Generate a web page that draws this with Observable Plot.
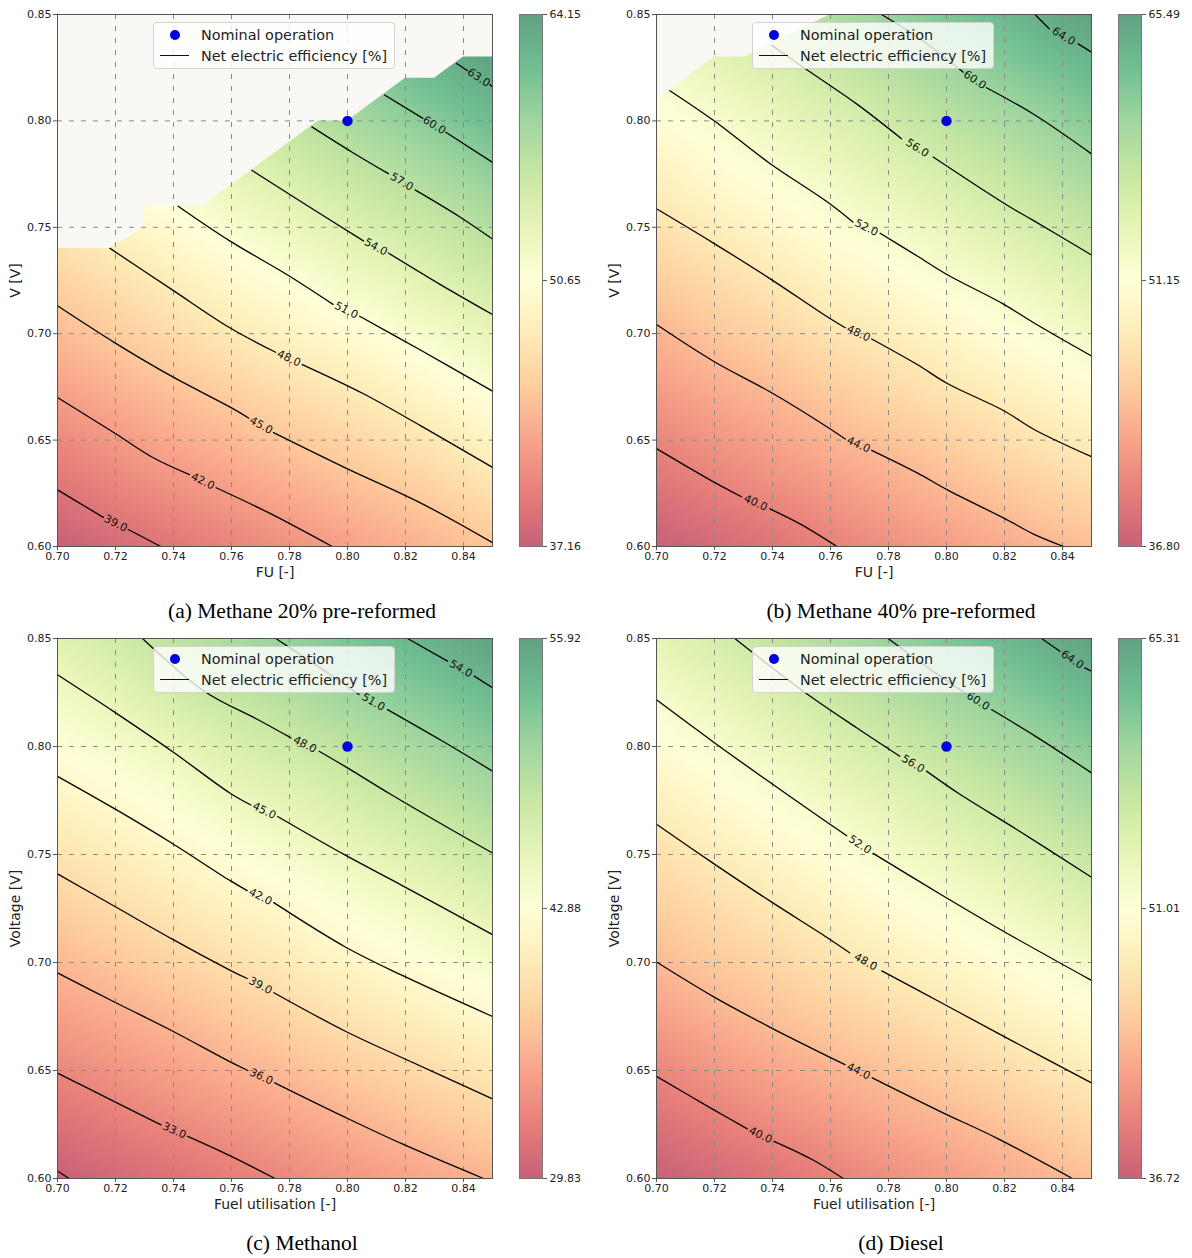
<!DOCTYPE html>
<html><head><meta charset="utf-8">
<script src="https://cdn.jsdelivr.net/npm/d3@7"></script>
<script src="https://cdn.jsdelivr.net/npm/@observablehq/plot@0.6"></script>
<style>
body{margin:0;background:#fff;font-family:"DejaVu Sans",sans-serif;}
#fig{position:relative;width:1192px;height:1258px;overflow:hidden;background:#fff;}
.legend{position:absolute;box-sizing:border-box;width:242px;height:47px;border:1px solid #d2d2d2;border-radius:4px;background:rgba(255,255,255,0.8);font-size:14.4px;color:#222;}
.legend .dot{position:absolute;left:16px;top:7px;width:10px;height:10px;border-radius:50%;background:#0000dd;}
.legend .ln{position:absolute;left:6px;top:32px;width:29px;height:1.4px;background:#111;}
.legend .t{position:absolute;left:47px;line-height:18px;white-space:nowrap;}
.caption{position:absolute;width:600px;text-align:center;font-family:"Liberation Serif",serif;font-size:21.5px;line-height:26px;color:#000;}
</style></head>
<body><div id="fig"></div>
<script>
// ---------------- data ----------------
const xTicks = [0.70, 0.72, 0.74, 0.76, 0.78, 0.80, 0.82, 0.84];
const yTicks = [0.60, 0.65, 0.70, 0.75, 0.80, 0.85];
const xDomain = [0.70, 0.85];
const yDomain = [0.60, 0.85];
const nominal = [{fu: 0.80, v: 0.80}];
const captions = ["(a) Methane 20% pre-reformed", "(b) Methane 40% pre-reformed", "(c) Methanol", "(d) Diesel"];
const legendItems = ["Nominal operation", "Net electric efficiency [%]"];

// colour-bar ranges and ticks
const rangeA = [37.16, 64.15], cbTicksA = [37.16, 50.65, 64.15];
const rangeB = [36.80, 65.49], cbTicksB = [36.80, 51.15, 65.49];
const rangeC = [29.83, 55.92], cbTicksC = [29.83, 42.88, 55.92];
const rangeD = [36.72, 65.31], cbTicksD = [36.72, 51.01, 65.31];

// contour lines: [level, [[FU, V], ...]]; null = gap left for the inline label
const contoursA = [
  [39, [[0.70,0.6266],[0.7158,0.6137],null,[0.7244,0.6080],[0.7356,0.600]]],
  [42, [[0.70,0.670],[0.7198,0.6532],[0.733,0.6417],[0.7455,0.6338],null,[0.7547,0.6276],[0.7726,0.616],[0.7947,0.600]]],
  [45, [[0.70,0.7131],[0.7198,0.6957],[0.7396,0.6798],[0.7594,0.6656],[0.766,0.6603],null,[0.7745,0.6535],[0.7989,0.6372],[0.8253,0.6204],[0.85,0.6018]]],
  [48, [[0.7181,0.7401],[0.7396,0.7206],[0.7594,0.7028],[0.7752,0.6913],null,[0.7844,0.6855],[0.8055,0.6718],[0.8253,0.6567],[0.85,0.6372]]],
  [51, [[0.7416,0.7599],[0.7594,0.7436],[0.7792,0.7277],[0.795,0.7138],null,[0.8042,0.7082],[0.8253,0.6922],[0.85,0.673]]],
  [54, [[0.767,0.7768],[0.7858,0.7605],[0.8055,0.7436],null,[0.8141,0.7379],[0.8319,0.7232],[0.85,0.709]]],
  [57, [[0.7877,0.7972],[0.8016,0.7853],[0.8141,0.7752],null,[0.8233,0.7676],[0.8385,0.7551],[0.85,0.7445]]],
  [60, [[0.8128,0.8122],[0.826,0.8012],null,[0.8339,0.7947],[0.85,0.7805]]],
  [63, [[0.8376,0.827],[0.8414,0.8236],null,[0.8491,0.817],[0.85,0.8161]]]
];
const contoursB = [
  [40, [[0.70,0.646],[0.7195,0.6305],[0.7293,0.6234],null,[0.7391,0.6177],[0.7495,0.6106],[0.7622,0.600]]],
  [44, [[0.70,0.7043],[0.7195,0.6872],[0.7391,0.6727],[0.7586,0.6564],[0.7651,0.6505],null,[0.7742,0.6452],[0.7899,0.6346],[0.8003,0.6266],[0.8198,0.6133],[0.8302,0.6057],[0.8404,0.600]]],
  [48, [[0.70,0.7587],[0.7195,0.7427],[0.7391,0.7259],[0.7586,0.7082],[0.7651,0.7028],null,[0.7742,0.6975],[0.7899,0.6855],[0.8003,0.6766],[0.8198,0.6638],[0.8302,0.655],[0.85,0.6422]]],
  [52, [[0.7046,0.8142],[0.7195,0.8004],[0.7391,0.780],[0.7586,0.7622],[0.7677,0.7525],null,[0.7771,0.7472],[0.7899,0.7365],[0.8003,0.7277],[0.8198,0.7138],[0.8302,0.705],[0.85,0.6895]]],
  [56, [[0.7397,0.8356],[0.7506,0.8252],[0.769,0.808],[0.7845,0.7916],null,[0.7954,0.783],[0.8198,0.7613],[0.8302,0.753],[0.85,0.737]]],
  [60, [[0.7776,0.85],[0.7908,0.8386],[0.8058,0.8229],null,[0.8138,0.8156],[0.8302,0.803],[0.85,0.7845]]],
  [64, [[0.8305,0.85],[0.8354,0.8433],null,[0.8454,0.8362],[0.85,0.8323]]]
];
const contoursC = [
  [30, [[0.70,0.6035],[0.704,0.600]]],
  [33, [[0.70,0.6488],[0.7198,0.6355],[0.7357,0.6248],null,[0.7449,0.6195],[0.7594,0.6106],[0.775,0.600]]],
  [36, [[0.70,0.6952],[0.7198,0.6816],[0.7396,0.6683],[0.7594,0.6541],[0.7656,0.650],null,[0.7749,0.6443],[0.7991,0.6284],[0.8189,0.616],[0.8469,0.600]]],
  [39, [[0.70,0.741],[0.7198,0.7259],[0.7396,0.7108],[0.7594,0.6965],[0.7654,0.6926],null,[0.7746,0.686],[0.7991,0.6683],[0.8189,0.6559],[0.85,0.6369]]],
  [42, [[0.70,0.7862],[0.7198,0.7711],[0.7396,0.7551],[0.7594,0.738],[0.7654,0.7333],null,[0.7746,0.7277],[0.7991,0.7073],[0.8189,0.694],[0.85,0.675]]],
  [45, [[0.70,0.8332],[0.7198,0.8158],[0.7396,0.7977],[0.7594,0.7785],[0.7667,0.7729],null,[0.7759,0.7676],[0.7991,0.7498],[0.8189,0.7356],[0.85,0.7129]]],
  [48, [[0.7293,0.85],[0.7506,0.8256],[0.769,0.8125],[0.7805,0.804],null,[0.7902,0.7978],[0.80,0.7901],[0.815,0.7778],[0.85,0.7507]]],
  [51, [[0.7753,0.85],[0.7897,0.8372],[0.804,0.8241],null,[0.8138,0.8171],[0.8321,0.803],[0.85,0.7886]]],
  [54, [[0.8207,0.85],[0.8345,0.8395],null,[0.8437,0.8326],[0.85,0.8272]]]
];
const contoursD = [
  [40, [[0.70,0.6473],[0.7196,0.6319],[0.7313,0.623],null,[0.7405,0.6172],[0.7535,0.6089],[0.7644,0.600]]],
  [44, [[0.70,0.7002],[0.7196,0.6842],[0.7392,0.670],[0.765,0.6527],null,[0.7744,0.6466],[0.7979,0.631],[0.8175,0.6186],[0.8434,0.600]]],
  [48, [[0.70,0.764],[0.7196,0.7459],[0.7392,0.7284],[0.7588,0.7116],[0.7666,0.7045],null,[0.7777,0.6961],[0.7979,0.6816],[0.8175,0.6674],[0.85,0.6443]]],
  [52, [[0.70,0.8216],[0.7196,0.8021],[0.7392,0.7833],[0.7588,0.7649],[0.7656,0.7587],null,[0.7747,0.7505],[0.7979,0.7316],[0.8175,0.7161],[0.85,0.6917]]],
  [56, [[0.727,0.85],[0.7506,0.8256],[0.769,0.8087],[0.7839,0.7955],null,[0.7931,0.7886],[0.8045,0.778],[0.8241,0.7617],[0.85,0.7395]]],
  [60, [[0.7799,0.85],[0.7953,0.8349],[0.8063,0.8249],null,[0.8155,0.8171],[0.8306,0.8048],[0.85,0.7878]]],
  [64, [[0.8328,0.85],[0.8391,0.8441],null,[0.8477,0.8364],[0.85,0.8349]]]
];

// extra samples of the field (corners, edge of the missing region): [FU, V, efficiency]
const extraA = [[0.70,0.60,37.16],[0.85,0.60,44.85],[0.70,0.74,46.9],[0.73,0.75,49.5],[0.73,0.76,50.3],[0.75,0.76,51.6],[0.79,0.80,57.4],[0.80,0.80,58.1],[0.82,0.82,61.1],[0.83,0.82,61.8],[0.84,0.83,63.4],[0.85,0.83,64.15],[0.70,0.85,50.0],[0.85,0.85,64.15]];
const extraB = [[0.70,0.60,36.80],[0.85,0.60,44.4],[0.70,0.81,51.4],[0.72,0.83,54.2],[0.7305,0.83,55.0],[0.76,0.85,58.7],[0.70,0.85,54.0],[0.85,0.85,65.49]];
const extraC = [[0.70,0.60,29.83],[0.85,0.60,36.15],[0.70,0.85,46.1],[0.85,0.85,55.92]];
const extraD = [[0.70,0.60,36.72],[0.85,0.60,44.3],[0.70,0.85,54.0],[0.85,0.85,65.31]];

// lower boundary of the region without results: [FU, V]
const nanA = [[0.70,0.74],[0.718,0.74],[0.73,0.75],[0.73,0.76],[0.75,0.76],[0.79,0.80],[0.80,0.80],[0.82,0.82],[0.83,0.82],[0.84,0.83],[0.85,0.83]];
const nanB = [[0.70,0.81],[0.72,0.83],[0.7305,0.83],[0.76,0.85]];

// ---------------- drawing ----------------
const lin = d3.piecewise(d3.interpolateRgb, d3.schemeRdYlGn[11]);
const ALPHA = 0.62;
const ramp = t => {
  const c = d3.rgb(lin(Math.max(0, Math.min(1, t))));
  const m = v => Math.round(ALPHA * v + (1 - ALPHA) * 255);
  return `rgb(${m(c.r)},${m(c.g)},${m(c.b)})`;
};

const panels = [
  {left: 0,   top: 0,   plotH: 532, contours: contoursA, extra: extraA, nan: nanA, range: rangeA, cb: cbTicksA, xl: "FU [-]", yl: "V [V]", cap: captions[0]},
  {left: 599, top: 0,   plotH: 532, contours: contoursB, extra: extraB, nan: nanB, range: rangeB, cb: cbTicksB, xl: "FU [-]", yl: "V [V]", cap: captions[1]},
  {left: 0,   top: 624, plotH: 540, contours: contoursC, extra: extraC, nan: null, range: rangeC, cb: cbTicksC, xl: "Fuel utilisation [-]", yl: "Voltage [V]", cap: captions[2]},
  {left: 599, top: 624, plotH: 540, contours: contoursD, extra: extraD, nan: null, range: rangeD, cb: cbTicksD, xl: "Fuel utilisation [-]", yl: "Voltage [V]", cap: captions[3]}
];

const fig = document.getElementById("fig");
const ML = 57, MT = 14, PW = 435, MR = 8, MB = 40;
const fmt2 = d => d.toFixed(2);

function place(el, left, top) {
  el.style.position = "absolute"; el.style.left = left + "px"; el.style.top = top + "px";
  fig.appendChild(el);
}

for (const p of panels) {
  const H = p.plotH;
  const samples = [], lineRows = [], labelRows = [];
  for (const [lvl, pts] of p.contours) {
    for (const pt of pts) {
      if (pt) { samples.push({fu: pt[0], v: pt[1], eff: lvl}); lineRows.push({level: lvl, fu: pt[0], v: pt[1]}); }
      else lineRows.push({level: lvl, fu: NaN, v: NaN});
    }
    const g = pts.indexOf(null);
    if (g > 0) {
      const a = pts[g - 1], b = pts[g + 1];
      const a2 = pts[Math.max(0, g - 2)], b2 = pts[Math.min(pts.length - 1, g + 2)];
      const ang = (s, e) => Math.atan2((s[1] - e[1]) * H / 0.25, (e[0] - s[0]) * PW / 0.15) * 180 / Math.PI;
      labelRows.push({fu: (a[0] + b[0]) / 2, v: (a[1] + b[1]) / 2, text: lvl.toFixed(1), angle: (ang(a, b) + ang(a2, b2)) / 2});
    }
  }
  for (const e of p.extra) samples.push({fu: e[0], v: e[1], eff: e[2]});

  const colorOpts = {type: "linear", domain: p.range, interpolate: ramp, clamp: true};
  const marks = [
    Plot.raster(samples, {x: "fu", y: "v", fill: "eff", interpolate: "barycentric", pixelSize: 1})
  ];
  if (p.nan) marks.push(Plot.area(p.nan, {x1: d => d[0], y1: d => d[1], y2: () => yDomain[1], fill: "#faf8f5", curve: "linear"}));
  marks.push(
    Plot.gridX(xTicks, {stroke: "#8a8a8a", strokeOpacity: 1, strokeWidth: 1, strokeDasharray: "5,7"}),
    Plot.gridY(yTicks, {stroke: "#8a8a8a", strokeOpacity: 1, strokeWidth: 1, strokeDasharray: "5,7"}),
    Plot.line(lineRows, {x: "fu", y: "v", z: "level", stroke: "#000", strokeWidth: 1.3, curve: "catmull-rom"}),
    Plot.text(labelRows, {x: "fu", y: "v", text: "text", rotate: "angle", fontSize: 11, fill: "#111"}),
    Plot.dot(nominal, {x: "fu", y: "v", r: 5.2, fill: "#0000dd", stroke: null}),
    Plot.axisX(xTicks, {tickFormat: fmt2, tickSize: 4, tickPadding: 2, label: null, stroke: "#555", fill: "#222", fontSize: 11}),
    Plot.axisY(yTicks, {tickFormat: fmt2, tickSize: 4, tickPadding: 2, label: null, stroke: "#555", fill: "#222", fontSize: 11}),
    Plot.frame({stroke: "#555", strokeWidth: 1}),
    Plot.text([p.xl], {text: d => d, frameAnchor: "bottom", lineAnchor: "middle", textAnchor: "middle", dy: 26, fontSize: 14, fill: "#222"}),
    Plot.text([p.yl], {text: d => d, frameAnchor: "left", lineAnchor: "middle", textAnchor: "middle", dx: -42, rotate: -90, fontSize: 14, fill: "#222"})
  );
  const main = Plot.plot({
    width: ML + PW + MR, height: MT + H + MB,
    marginLeft: ML, marginTop: MT, marginRight: MR, marginBottom: MB,
    x: {domain: xDomain}, y: {domain: yDomain},
    color: colorOpts,
    style: {fontFamily: "DejaVu Sans", fontSize: "11px", background: "transparent", overflow: "visible", color: "#222"},
    marks
  });
  place(main, p.left, p.top);

  // colour bar
  const cbar = Plot.plot({
    width: 23 + 50, height: MT + H + MB,
    marginLeft: 0, marginRight: 50, marginTop: MT, marginBottom: MB,
    x: {domain: [0, 1], axis: null},
    y: {domain: p.range},
    color: colorOpts,
    style: {fontFamily: "DejaVu Sans", fontSize: "11px", background: "transparent", overflow: "visible", color: "#222"},
    marks: [
      Plot.raster({fill: (x, y) => y, x1: 0, x2: 1, y1: p.range[0], y2: p.range[1], pixelSize: 1}),
      Plot.frame({stroke: "#777", strokeWidth: 1}),
      Plot.axisY(p.cb, {anchor: "right", tickFormat: fmt2, tickSize: 4, tickPadding: 3, label: null, stroke: "#555", fill: "#222", fontSize: 11})
    ]
  });
  place(cbar, p.left + 519, p.top);

  // legend
  const lg = document.createElement("div");
  lg.className = "legend";
  lg.innerHTML = `<div class="dot"></div><div class="t" style="top:3px">${legendItems[0]}</div><div class="ln"></div><div class="t" style="top:24px">${legendItems[1]}</div>`;
  lg.style.left = (p.left + ML + 96) + "px";
  lg.style.top = (p.top + MT + 8) + "px";
  fig.appendChild(lg);

  // caption
  const cap = document.createElement("div");
  cap.className = "caption";
  cap.textContent = p.cap;
  cap.style.left = (p.left + 302 - 300) + "px";
  cap.style.top = (p.top + MT + H + 65 - 13) + "px";
  fig.appendChild(cap);
}
</script>
</body></html>
